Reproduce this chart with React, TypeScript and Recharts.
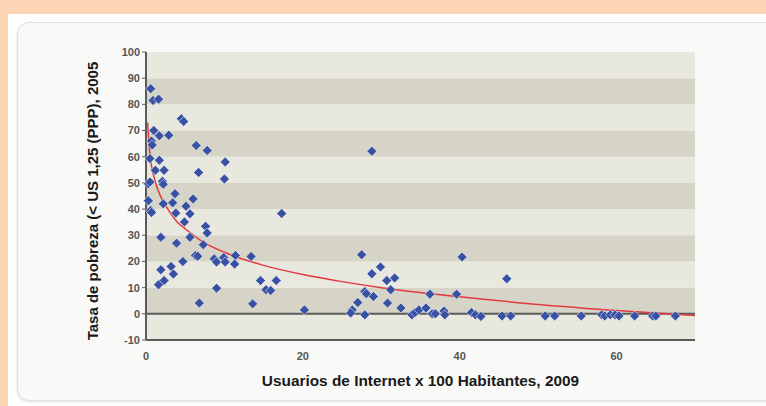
import {
  ReferenceArea,
  ReferenceLine,
  Scatter,
  ScatterChart,
  XAxis,
  YAxis,
} from "recharts";

// internet users per 100 inhabitants, 2009
const internetUsers = [
  0.6, 0.9, 1.6, 4.5, 4.8, 1.0, 1.7, 2.9, 0.7, 0.8, 6.4, 7.8, 0.5, 1.7, 10.1,
  1.2, 2.3, 6.7, 10.0, 0.3, 0.5, 2.1, 2.2, 3.7, 6.0, 0.3, 0.6, 0.7, 2.2, 3.4,
  3.8, 5.1, 5.6, 4.9, 7.6, 7.8, 1.9, 5.6, 3.9, 7.3, 6.3, 6.6, 4.7, 8.7, 9.0,
  9.9, 10.1, 11.4, 11.3, 1.9, 3.2, 3.5, 2.3, 1.6, 9.0, 6.8,
  17.3, 13.4, 14.6, 16.6, 15.3, 15.9, 13.6, 20.2,
  28.8, 27.5, 40.3, 46.0,
  29.9, 28.8, 30.7, 31.7, 31.2, 27.9, 28.1, 29.0, 30.8, 27.0, 26.3, 26.1, 27.9,
  32.5, 36.2, 39.6, 33.9, 34.3, 34.8, 35.7, 36.5, 36.9, 38.0, 38.1,
  41.5, 42.0, 42.7, 45.4, 46.5, 50.9, 52.1, 55.5, 58.1, 58.5, 59.2, 59.8,
  60.3, 62.3, 64.6, 65.0, 67.5,
];

// poverty rate (< US 1,25 PPP), 2005
const povertyRate = [
  86, 81.5, 82, 74.5, 73.5, 70, 68, 68.2, 66, 64.5, 64.3, 62.4, 59.3, 58.7, 58,
  54.8, 54.8, 54, 51.5, 49.7, 50.3, 50.6, 49.5, 45.9, 43.9, 43.2, 39.5, 38.7, 42, 42.4,
  38.5, 41.1, 38.2, 35.1, 33.4, 30.9, 29.2, 29.2, 27, 26.4, 22.3, 22, 20, 21, 19.8,
  21.5, 19.8, 22.3, 19, 16.8, 18.1, 15.2, 12.7, 11.1, 9.8, 4.1,
  38.3, 21.9, 12.7, 12.7, 9.2, 8.9, 3.8, 1.5,
  62.1, 22.6, 21.7, 13.4,
  17.9, 15.3, 12.7, 13.7, 9.2, 8.5, 7.7, 6.6, 4.1, 4.3, 1.5, 0.3, -0.4,
  2.2, 7.5, 7.5, -0.4, 0.5, 1.5, 2.2, 0, 0, 1.1, -0.4,
  0.5, -0.4, -1, -0.8, -0.8, -0.8, -0.8, -0.8, -0.4, -0.8, -0.4, -0.4,
  -0.8, -0.8, -0.8, -0.8, -0.8,
];

// logarithmic trend line
const trendX = [0.2, 0.5, 1, 1.5, 2, 3, 4, 5, 7, 10, 15, 20, 25, 30, 40, 50, 60, 70];
const trendY = [73, 61, 52.5, 47.5, 44, 39, 35, 32.5, 28, 23.5, 18.5, 15, 12.3, 10, 6.5, 3.6, 1.3, -0.6];

const xTicks = [0, 20, 40, 60];
const yTicks = [-10, 0, 10, 20, 30, 40, 50, 60, 70, 80, 90, 100];

const points = internetUsers.map((x, i) => ({ x, y: povertyRate[i] }));
const trend = trendX.map((x, i) => ({ x, y: trendY[i] }));
const bands = yTicks.slice(0, -1).map((lo, i) => ({ lo, hi: yTicks[i + 1], dark: i % 2 === 1 }));

const FONT = "'Liberation Sans Narrow', 'Liberation Sans', Arial, sans-serif";
const AXIS = "#5a5a5a";

function Diamond(props: any) {
  const { cx, cy } = props;
  if (cx == null || cy == null) return <g />;
  const r = 5;
  return (
    <path
      d={`M${cx},${cy - r}L${cx + r},${cy}L${cx},${cy + r}L${cx - r},${cy}Z`}
      fill="#3851a3"
      stroke="rgba(255,255,255,0.55)"
      strokeWidth={1}
    />
  );
}

export default function App() {
  const tick = { fill: "#555", fontSize: 11, fontWeight: 700, fontFamily: FONT };
  return (
    <div style={{ position: "absolute", left: 0, top: 0, width: 766, height: 406, background: "#fcd5b4", overflow: "hidden" }}>
      <div style={{ position: "absolute", left: 8, top: 14, width: 770, height: 400, background: "#fff" }} />
      <div
        style={{
          position: "absolute",
          left: 17,
          top: 22,
          width: 760,
          height: 377,
          background: "#f9f9f7",
          border: "1px solid #e0e0dc",
          borderRadius: 12,
          boxShadow: "0 1px 3px rgba(0,0,0,0.12)",
        }}
      />
      <ScatterChart
        width={766}
        height={406}
        margin={{ top: 52, right: 71, bottom: 36, left: 86 }}
        style={{ position: "absolute", left: 0, top: 0 }}
      >
        {bands.map((b) => (
          <ReferenceArea
            key={b.lo}
            y1={b.lo}
            y2={b.hi}
            fill={b.dark ? "#d6d4c7" : "#e9e8de"}
            fillOpacity={1}
            stroke="none"
          />
        ))}
        <ReferenceLine y={0} stroke={AXIS} strokeWidth={2} />
        <XAxis
          type="number"
          dataKey="x"
          domain={[0, 70]}
          ticks={xTicks}
          interval={0}
          height={30}
          axisLine={{ stroke: AXIS, strokeWidth: 2 }}
          tickLine={false}
          tickSize={10}
          tick={tick}
        />
        <YAxis
          type="number"
          dataKey="y"
          domain={[-10, 100]}
          ticks={yTicks}
          interval={0}
          width={60}
          axisLine={{ stroke: AXIS, strokeWidth: 2 }}
          tickLine={{ stroke: AXIS }}
          tickSize={4}
          tick={tick}
        />
        <Scatter
          data={trend}
          line={{ stroke: "#e2393c", strokeWidth: 1.5 }}
          lineJointType="monotoneX"
          shape={() => <g />}
          isAnimationActive={false}
        />
        <Scatter data={points} shape={Diamond} isAnimationActive={false} />
      </ScatterChart>
      <div
        style={{
          position: "absolute",
          left: 146,
          width: 549,
          top: 372,
          textAlign: "center",
          fontFamily: FONT,
          fontWeight: 700,
          fontSize: 15.4,
          color: "#1a1a1a",
          whiteSpace: "nowrap",
        }}
      >
        Usuarios de Internet x 100 Habitantes, 2009
      </div>
      <div
        style={{
          position: "absolute",
          left: 93 - 150,
          top: 201 - 10,
          width: 300,
          height: 20,
          lineHeight: "20px",
          textAlign: "center",
          transform: "rotate(-90deg)",
          fontFamily: FONT,
          fontWeight: 700,
          fontSize: 15,
          color: "#1a1a1a",
          whiteSpace: "nowrap",
        }}
      >
        Tasa de pobreza (&lt; US 1,25 (PPP), 2005
      </div>
    </div>
  );
}
